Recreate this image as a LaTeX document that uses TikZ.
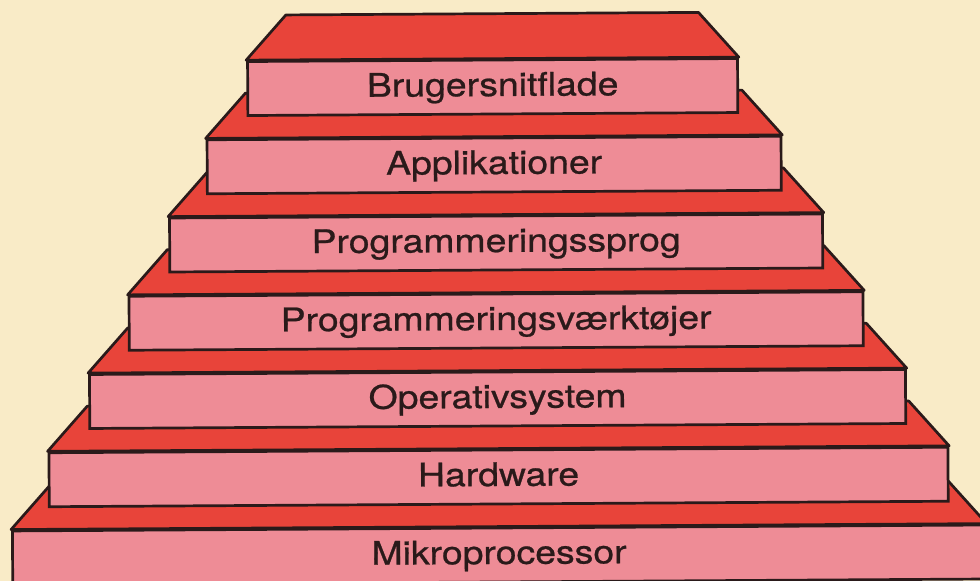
\documentclass[tikz,border=0pt]{standalone}
\usepackage{fontspec}
\setmainfont{TeX Gyre Heros}
\newfontfamily\labelfont[FakeBold=0.7]{TeX Gyre Heros}
\usetikzlibrary{calc}
\definecolor{paper}{HTML}{F9EBC7}
\definecolor{ledge}{HTML}{E8443A}
\definecolor{face}{HTML}{EE8C96}
\definecolor{ink}{HTML}{2A1A1A}
\tikzset{
  layerbox/.style={draw=ink, fill=face, line width=2.7pt, rectangle,
    inner sep=0pt, minimum height=54pt, text height=24pt, text depth=6pt,
    font=\labelfont\fontsize{32.5}{36}\selectfont, text=ink},
  ledgeshape/.style={draw=ink, fill=ledge, line width=2.7pt, line join=round},
}
% one step of the pyramid: front box with its label, and the red ledge above it
% #1 name, #2 left x, #3 right x, #4 top y, #5 label
\newcommand\pyrlayer[5]{%
  \node[layerbox, minimum width={#3-#2}] (#1) at ({(#2+#3)/2},{#4+27}) {\scalebox{1.15}[1]{#5}};
  \path (#1.north east) ++(-40,-45) coordinate (#1-tr);
  \draw[ledgeshape] (#1.north west) -- ++(40,-45) -- (#1-tr) -- (#1.north east) -- cycle;
}
\begin{document}
\begin{tikzpicture}[x=1pt,y=-1pt]
  \fill[paper] (0,0) rectangle (980,581);
  \useasboundingbox (0,0) rectangle (980,581);
  \clip (0,0) rectangle (980,581);
  \begin{scope}[rotate around={0.35:(496,300)}, transform shape]
    \pyrlayer{mikro}{11}{984}{528}{Mikroprocessor}
    \pyrlayer{hw}{48}{947}{450}{Hardware}
    \pyrlayer{os}{89}{905}{372}{Operativsystem}
    \pyrlayer{tools}{129}{863}{294}{Programmeringsværktøjer}
    \pyrlayer{lang}{170}{823}{216}{Programmeringssprog}
    \pyrlayer{apps}{208}{782}{138}{Applikationer}
    \pyrlayer{ui}{249}{739}{60}{Brugersnitflade}
  \end{scope}
\end{tikzpicture}
\end{document}
